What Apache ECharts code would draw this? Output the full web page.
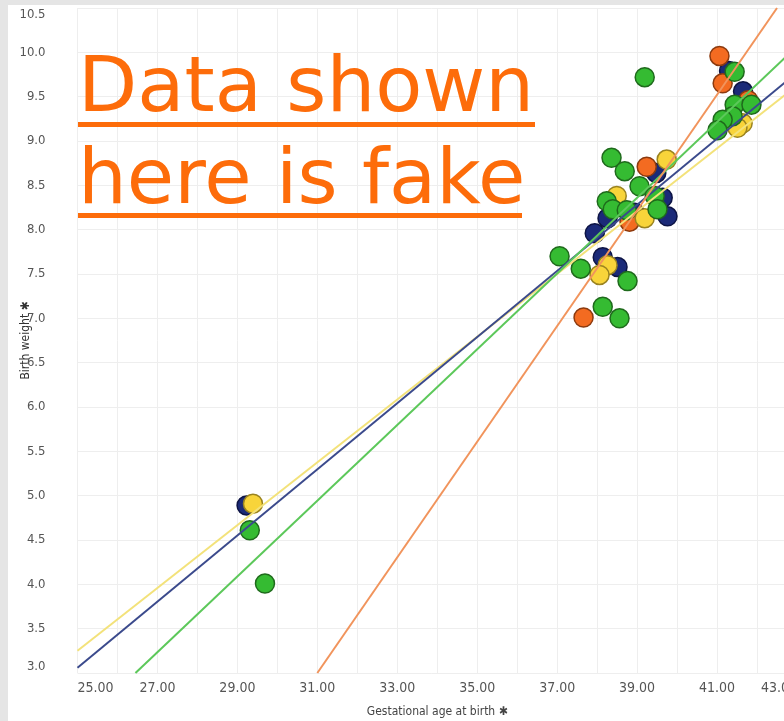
<!DOCTYPE html>
<html><head><meta charset="utf-8">
<script src="https://cdn.jsdelivr.net/npm/echarts@6/dist/echarts.min.js"></script>
<style>
html,body{margin:0;padding:0;background:#e5e5e5;width:784px;height:721px;overflow:hidden;}
#bg{position:absolute;left:8px;top:5px;right:0;bottom:0;background:#fff;}
#c{position:absolute;left:0;top:0;width:784px;height:721px;}
</style>
</head><body><div id="bg"></div><div id="c"></div>
<script>
// ---- data ----
const xLabelValues = [25, 27, 29, 31, 33, 35, 37, 39, 41, 43];
const yMin = 3.0, yMax = 10.5, yStep = 0.5;
const xMin = 25, xMax = 43;

const navyPoints = [[29.23,4.89],[37.94,7.96],[38.14,7.69],[38.51,7.58],[38.26,8.13],[38.94,8.19],
  [39.48,8.64],[39.64,8.36],[39.76,8.15],[41.30,9.79],[41.65,9.56]];
const orangePoints = [[37.66,7.01],[39.24,8.71],[38.81,8.09],[41.06,9.96],[41.14,9.65],[41.78,9.46]];
const yellowPoints = [[29.39,4.91],[38.26,7.60],[38.06,7.49],[38.49,8.38],[39.19,8.13],[39.74,8.79],
  [41.64,9.20],[41.51,9.15]];
const greenPoints = [[29.31,4.61],[29.69,4.01],[37.06,7.70],[37.59,7.56],[38.76,7.42],[38.14,7.13],
  [38.56,7.00],[38.36,8.81],[38.69,8.66],[39.06,8.49],[38.24,8.32],[38.39,8.23],[38.74,8.22],
  [39.44,8.38],[39.51,8.23],[39.19,9.72],[41.44,9.78],[41.44,9.41],[41.86,9.41],[41.39,9.28],
  [41.14,9.24],[41.01,9.12]];

const yellowTrend = [[25, 3.25], [42.7, 9.52]];
const navyTrend = [[25, 3.06], [42.7, 9.66]];
const greenTrend = [[26.45, 3.0], [42.7, 9.94]];
const orangeTrend = [[31.0, 3.0], [42.5, 10.5]];

const xAxisTitle = 'Gestational age at birth \u2731';
const yAxisTitle = 'Birth weight \u2731';
const noteLines = ['Data shown', 'here is fake'];

// ---- chart ----
const chart = echarts.init(document.getElementById('c'), null, {renderer: 'canvas'});
const labelFont = "'Liberation Sans Narrow', 'DejaVu Sans Condensed', sans-serif";

function scatter(name, data, fill, border) {
  return {type: 'scatter', name: name, data: data, symbolSize: 19, z: 3,
    itemStyle: {color: fill, borderColor: border, borderWidth: 1.5, opacity: 1}};
}
function trend(name, data, color) {
  return {type: 'line', name: name, data: data, symbol: 'none', z: 5, silent: true,
    lineStyle: {color: color, width: 2}};
}

const noteColor = '#fd6c0a';
const option = {
  animation: false,
  grid: {left: 77.5, top: 8, right: -13, bottom: 48, containLabel: false, outerBoundsMode: 'none'},
  xAxis: {
    type: 'value', min: xMin, max: xMax, interval: 1,
    name: xAxisTitle, nameLocation: 'middle', nameGap: 33, nameMoveOverlap: false,
    nameTextStyle: {color: '#444', fontSize: 12, fontFamily: labelFont},
    axisLine: {show: false}, axisTick: {show: false},
    splitLine: {show: true, lineStyle: {color: '#eeeeee', width: 1}},
    axisLabel: {
      color: '#555', fontSize: 14, fontFamily: labelFont, margin: 8,
      alignMinLabel: 'left', alignMaxLabel: 'right',
      formatter: v => xLabelValues.includes(Math.round(v)) ? v.toFixed(2) : ''
    }
  },
  yAxis: {
    type: 'value', min: yMin, max: yMax, interval: yStep,
    name: yAxisTitle, nameLocation: 'middle', nameGap: 46, nameMoveOverlap: false,
    nameTextStyle: {color: '#333', fontSize: 12, fontFamily: labelFont},
    axisLine: {show: false}, axisTick: {show: false},
    splitLine: {show: true, lineStyle: {color: '#eeeeee', width: 1}},
    axisLabel: {
      color: '#555', fontSize: 13, fontFamily: labelFont, margin: 32,
      verticalAlignMinLabel: 'bottom', verticalAlignMaxLabel: 'top',
      formatter: v => v.toFixed(1)
    }
  },
  series: [
    scatter('navy', navyPoints, '#1b2a78', '#0d1445'),
    scatter('orange', orangePoints, '#f36b21', '#8c3a0e'),
    scatter('yellow', yellowPoints, '#f8d43a', '#9a8320'),
    scatter('green', greenPoints, '#35bb32', '#1f6a1c'),
    trend('yellowTrend', yellowTrend, '#f3e27a'),
    trend('navyTrend', navyTrend, '#3b4a8c'),
    trend('greenTrend', greenTrend, '#5cc85a'),
    trend('orangeTrend', orangeTrend, '#f1945c')
  ],
  graphic: [
    {type: 'text', z: 100, zlevel: 1, style: {text: noteLines[0], x: 78, y: 91, fill: noteColor,
      font: "77px 'DejaVu Sans', sans-serif", verticalAlign: 'middle', align: 'left'}},
    {type: 'text', z: 100, zlevel: 1, style: {text: noteLines[1], x: 78, y: 183, fill: noteColor,
      font: "77px 'DejaVu Sans', sans-serif", verticalAlign: 'middle', align: 'left'}},
    {type: 'rect', z: 100, zlevel: 1, shape: {x: 78, y: 122, width: 457, height: 5}, style: {fill: noteColor}},
    {type: 'rect', z: 100, zlevel: 1, shape: {x: 78, y: 213, width: 444, height: 5}, style: {fill: noteColor}}
  ]
};
chart.setOption(option);
</script>
</body></html>
